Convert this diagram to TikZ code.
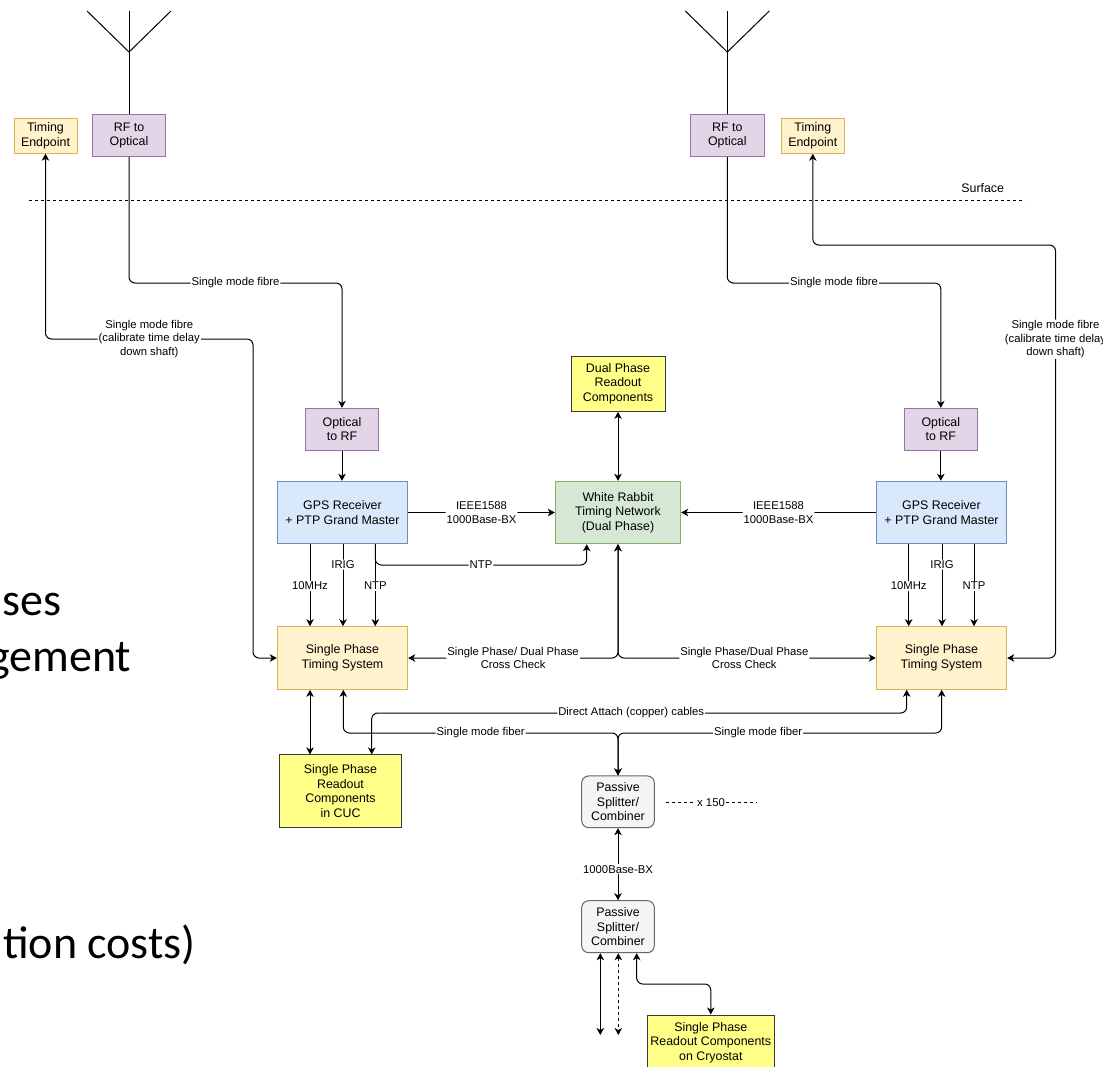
\documentclass[tikz,border=0pt]{standalone}
\usepackage{fontspec}
\setmainfont{Liberation Sans}
\newfontfamily\slidefont{Carlito}
\usetikzlibrary{arrows.meta,calc}

\definecolor{purpleF}{HTML}{E1D5E7}\definecolor{purpleD}{HTML}{9673A6}
\definecolor{creamF}{HTML}{FFF2CC}\definecolor{creamD}{HTML}{D6B656}
\definecolor{blueF}{HTML}{DAE8FC}\definecolor{blueD}{HTML}{6C8EBF}
\definecolor{greenF}{HTML}{D5E8D4}\definecolor{greenD}{HTML}{82B366}
\definecolor{noteF}{HTML}{FFFF88}\definecolor{noteD}{HTML}{36393D}
\definecolor{greyF}{HTML}{F5F5F5}\definecolor{greyD}{HTML}{666666}

\newcommand\dgnodefont{\fontsize{12.4}{14.5}\selectfont}
\newcommand\dglblfont{\fontsize{11.3}{13.4}\selectfont}

\tikzset{
  box/.style={draw, line width=1pt, align=center, inner sep=1pt, font=\dgnodefont},
  purplebox/.style={box, fill=purpleF, draw=purpleD},
  creambox/.style={box, fill=creamF, draw=creamD},
  bluebox/.style={box, fill=blueF, draw=blueD},
  greenbox/.style={box, fill=greenF, draw=greenD},
  notebox/.style={box, fill=noteF, draw=noteD},
  splitbox/.style={box, fill=greyF, draw=greyD, rounded corners=7pt},
  lbl/.style={fill=white, inner sep=1pt, align=center, font=\dglblfont},
  wire/.style={draw, line width=1pt, rounded corners=6pt},
  tip/.tip={Stealth[length=7pt,width=7.5pt,inset=2pt]},
  arr/.style={-tip},
  biarr/.style={tip-tip},
  dotline/.style={line width=1pt, dash pattern=on 3pt off 3pt},
  slidetxt/.style={inner sep=0pt, font=\slidefont\fontsize{46}{50}\selectfont}
}

\begin{document}
\begin{tikzpicture}[x=1pt,y=-1pt]
\useasboundingbox (0,0) rectangle (1103,1066);
\clip (0,0) rectangle (1103,1066);
\fill[white] (0,0) rectangle (1103,1066);

% slide text behind the diagram
\node[slidetxt, anchor=base east] (sl1) at (62,615) {ses};
\node[slidetxt, anchor=base east] (sl2) at (131.5,671) {gement};
\node[slidetxt, anchor=base east] (sl3) at (196,958) {tion costs)};

% surface boundary
\draw[dotline] (29,200) -- (1025,200);
\node[font=\dgnodefont, inner sep=0pt] (surf) at (982.7,188) {Surface};

% boxes
\node[purplebox, minimum width=73.4pt, minimum height=42pt] (rfoL) at (129,135.3) {RF to\\Optical};
\node[creambox, minimum width=63pt, minimum height=35pt] (teL) at (45.5,135.7) {Timing\\Endpoint};
\node[purplebox, minimum width=73.4pt, minimum height=42pt] (rfoR) at (727.3,135.3) {RF to\\Optical};
\node[creambox, minimum width=63pt, minimum height=35pt] (teR) at (812.8,135.7) {Timing\\Endpoint};

\node[purplebox, minimum width=73.4pt, minimum height=41.7pt] (ortfL) at (342,429.2) {Optical\\to RF};
\node[purplebox, minimum width=73.4pt, minimum height=41.7pt] (ortfR) at (940.8,429.2) {Optical\\to RF};

\node[bluebox, minimum width=130.4pt, minimum height=62.4pt] (gpsL) at (342.5,512.5) {GPS Receiver\\+ PTP Grand Master};
\node[bluebox, minimum width=130.4pt, minimum height=62.4pt] (gpsR) at (941.5,512.5) {GPS Receiver\\+ PTP Grand Master};
\node[greenbox, minimum width=125.4pt, minimum height=62.4pt] (wr) at (618,512.5) {White Rabbit\\Timing Network\\(Dual Phase)};
\node[notebox, minimum width=94pt, minimum height=55.3pt] (dpr) at (618,383.7) {Dual Phase\\Readout\\Components};

\node[creambox, minimum width=130.4pt, minimum height=62.6pt] (spL) at (342.5,658) {Single Phase\\Timing System};
\node[creambox, minimum width=130.4pt, minimum height=62.6pt] (spR) at (941.5,658) {Single Phase\\Timing System};

\node[notebox, minimum width=122.4pt, minimum height=72.7pt] (cucL) at (340.5,791.3) {Single Phase\\Readout\\Components\\in CUC};
\node[splitbox, minimum width=72.6pt, minimum height=51.7pt] (split1) at (618,801.8) {Passive\\Splitter/\\Combiner};
\node[splitbox, minimum width=72.6pt, minimum height=52pt] (split2) at (618,926.7) {Passive\\Splitter/\\Combiner};
\node[notebox, minimum width=127pt, minimum height=55pt] (cryo) at (710.8,1042.5) {Single Phase\\Readout Components\\on Cryostat};

% antennas
\coordinate (antL) at (rfoL.center |- 0,52);
\coordinate (antR) at (rfoR.center |- 0,52);
\draw[line width=1pt] ($(antL)+(-42,-41)$) -- (antL) -- ($(antL)+(42,-41)$);
\draw[line width=1pt] ($(antL)+(0,-41)$) -- (rfoL.north);
\draw[line width=1pt] ($(antR)+(-42,-41)$) -- (antR) -- ($(antR)+(42,-41)$);
\draw[line width=1pt] ($(antR)+(0,-41)$) -- (rfoR.north);

% fibres from the surface
\draw[wire,arr] (rfoL.south) -- (rfoL.south |- 0,283) -- node[lbl]{Single mode fibre} (ortfL.north |- 0,283) -- (ortfL.north);
\draw[wire,arr] (rfoR.south) -- (rfoR.south |- 0,283) -- node[lbl]{Single mode fibre} (ortfR.north |- 0,283) -- (ortfR.north);

\coordinate (cL) at (253,339);
\draw[wire,biarr] (teL.south) -- (teL.south |- cL) -- node[lbl]{Single mode fibre\\(calibrate time delay\\down shaft)} (cL) -- (cL |- spL.west) -- (spL.west);
\coordinate (cR) at (1055.5,245);
\draw[wire,biarr] (teR.south) -- (teR.south |- cR) -- (cR) -- node[lbl,pos=0.228]{Single mode fibre\\(calibrate time delay\\down shaft)} (cR |- spR.east) -- (spR.east);

% optical to GPS
\draw[wire,arr] (ortfL.south) -- (ortfL.south |- gpsL.north);
\draw[wire,arr] (ortfR.south) -- (ortfR.south |- gpsR.north);

% PTP links and readout
\draw[wire,arr] (gpsL.east) -- node[lbl]{IEEE1588\\1000Base-BX} (wr.west);
\draw[wire,arr] (gpsR.west) -- node[lbl]{IEEE1588\\1000Base-BX} (wr.east);
\draw[wire,biarr] (dpr.south) -- (wr.north);

% GPS outputs, left
\coordinate (gL1) at ($(gpsL.south)+(-32.5,0)$);
\coordinate (gL2) at ($(gpsL.south)+(0.5,0)$);
\coordinate (gL3) at ($(gpsL.south)+(32.8,0)$);
\draw[wire,arr] (gL1) -- node[lbl,pos=0.51]{10MHz} (gL1 |- spL.north);
\draw[wire,arr] (gL2) -- node[lbl,pos=0.25]{IRIG} (gL2 |- spL.north);
\draw[wire,arr] (gL3) -- node[lbl,pos=0.51]{NTP} (gL3 |- spL.north);
\coordinate (wrN) at ($(wr.south)+(-31.3,0)$);
\draw[wire,arr] (gL3) -- (gL3 |- 0,565) -- node[lbl]{NTP} (wrN |- 0,565) -- (wrN);

% GPS outputs, right
\coordinate (gR1) at ($(gpsR.south)+(-32.8,0)$);
\coordinate (gR2) at ($(gpsR.south)+(0.5,0)$);
\coordinate (gR3) at ($(gpsR.south)+(32.5,0)$);
\draw[wire,arr] (gR1) -- node[lbl,pos=0.51]{10MHz} (gR1 |- spR.north);
\draw[wire,arr] (gR2) -- node[lbl,pos=0.25]{IRIG} (gR2 |- spR.north);
\draw[wire,arr] (gR3) -- node[lbl,pos=0.51]{NTP} (gR3 |- spR.north);

% cross check
\draw[wire,biarr] (wr.south) |- node[lbl,pos=0.75]{Single Phase/ Dual Phase\\Cross Check} (spL.east);
\draw[wire,biarr] (wr.south) |- node[lbl,pos=0.745]{Single Phase/Dual Phase\\Cross Check} (spR.west);

% underground distribution
\coordinate (sL1) at ($(spL.south)+(-32.5,0)$);
\coordinate (sL2) at ($(spL.south)+(0.8,0)$);
\coordinate (sR1) at ($(spR.south)+(-34.8,0)$);
\coordinate (sR2) at ($(spR.south)+(0.2,0)$);
\coordinate (cuc2) at ($(cucL.north)+(31.2,0)$);
\draw[wire,biarr] (sL1) -- (sL1 |- cucL.north);
\draw[wire,biarr] (cuc2) -- (cuc2 |- 0,713) -- node[lbl,pos=0.485]{Direct Attach (copper) cables} (sR1 |- 0,713) -- (sR1);
\draw[wire,biarr] (sL2) -- (sL2 |- 0,733) -- node[lbl]{Single mode fiber} (split1.north |- 0,733) -- (split1.north);
\draw[wire,biarr] (sR2) -- (sR2 |- 0,733) -- node[lbl,pos=0.567]{Single mode fiber} (split1.north |- 0,733) -- (split1.north);

\draw[wire,biarr] (split1.south) -- node[lbl,pos=0.57]{1000Base-BX} (split2.north);
\coordinate (mulA) at ($(split1.east)+(10.7,0.5)$);
\coordinate (mulB) at ($(mulA)+(91,0)$);
\draw[dotline] (mulA) -- node[lbl]{x 150} (mulB);

% splitter outputs
\coordinate (b1) at ($(split2.south)+(-17.7,0)$);
\coordinate (b2) at ($(split2.south)+(0.3,0)$);
\coordinate (b3) at ($(split2.south)+(18.7,0)$);
\coordinate (b1end) at (b1 |- 0,1035);
\coordinate (b2end) at (b2 |- 0,1035);
\draw[wire,biarr] (b1) -- (b1end);
\draw[wire,biarr,dash pattern=on 3pt off 3pt] (b2) -- (b2end);
\draw[wire,biarr] (b3) -- (b3 |- 0,984) -- (cryo.north |- 0,984) -- (cryo.north);
\end{tikzpicture}
\end{document}
